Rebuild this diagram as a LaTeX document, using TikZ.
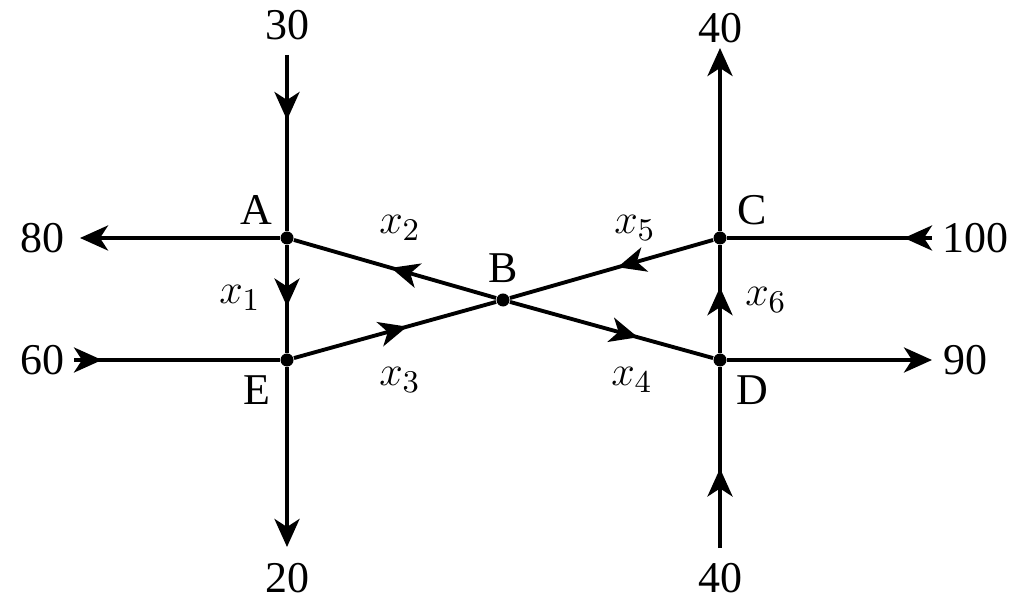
\documentclass[tikz,border=0pt]{standalone}
\usepackage{fontspec}
\setmainfont{Liberation Serif}
\usetikzlibrary{arrows.meta,decorations.markings}
\tikzset{
  junction/.style={circle,fill=black,inner sep=0pt,minimum size=1.3mm},
  lbl/.style={inner sep=1pt,font=\fontsize{12.5}{15}\selectfont},
  pipe/.style={line width=1.1pt},
  tip/.style={-{Stealth[length=2.8mm,width=2.5mm,inset=0.8mm]}},
  flow/.style={postaction={decorate},decoration={markings,
    mark=at position #1 with {\arrow{Stealth[length=2.8mm,width=2.5mm,inset=0.8mm]}}}}
}
\begin{document}
\begin{tikzpicture}[x=0.01cm,y=-0.01cm]
\useasboundingbox (0,0) rectangle (1022,610);
% junctions
\node[junction] (A) at (287,238) {};
\node[junction] (E) at (287,360) {};
\node[junction] (B) at (503,300) {};
\node[junction] (C) at (720,238) {};
\node[junction] (D) at (720,360) {};
% free ends
\coordinate (inA) at (287,55);
\coordinate (outA) at (80,238);
\coordinate (inE) at (74,360);
\coordinate (outE) at (287,547);
\coordinate (inC) at (932,238);
\coordinate (outC) at (720,48);
\coordinate (inD) at (720,548);
\coordinate (outD) at (932,360);
% branches
\draw[pipe,flow=0.37] (inA) -- (A);
\draw[pipe,tip] (A) -- (outA);
\draw[pipe,flow=0.57] (A) -- (E);
\draw[pipe,flow=0.52] (B) -- (A);
\draw[pipe,flow=2.8mm] (inE) -- (E);
\draw[pipe,tip] (E) -- (outE);
\draw[pipe,flow=0.56] (E) -- (B);
\draw[pipe,flow=0.47] (C) -- (B);
\draw[pipe,flow=0.63] (B) -- (D);
\draw[pipe,flow=2.8mm] (inC) -- (C);
\draw[pipe,tip] (C) -- (outC);
\draw[pipe,flow=0.61] (D) -- (C);
\draw[pipe,flow=0.44] (inD) -- (D);
\draw[pipe,tip] (D) -- (outD);
% labels
\node[lbl] (lA) at (256,210) {A};
\node[lbl] (lE) at (257,390) {E};
\node[lbl] (lB) at (503,268) {B};
\node[lbl] (lC) at (752,210) {C};
\node[lbl] (lD) at (752,390) {D};
\node[lbl] (x1) at (240,298) {$x_1$};
\node[lbl] (x2) at (400,228) {$x_2$};
\node[lbl] (x3) at (400,380) {$x_3$};
\node[lbl] (x4) at (632,380) {$x_4$};
\node[lbl] (x5) at (635,228) {$x_5$};
\node[lbl] (x6) at (766,300) {$x_6$};
\node[lbl] (n30) at (287,25) {30};
\node[lbl] (n80) at (42,238) {80};
\node[lbl] (n60) at (42,360) {60};
\node[lbl] (n20) at (287,578) {20};
\node[lbl] (n40t) at (720,28) {40};
\node[lbl] (n100) at (975,238) {100};
\node[lbl] (n90) at (965,360) {90};
\node[lbl] (n40b) at (720,578) {40};
\end{tikzpicture}
\end{document}
